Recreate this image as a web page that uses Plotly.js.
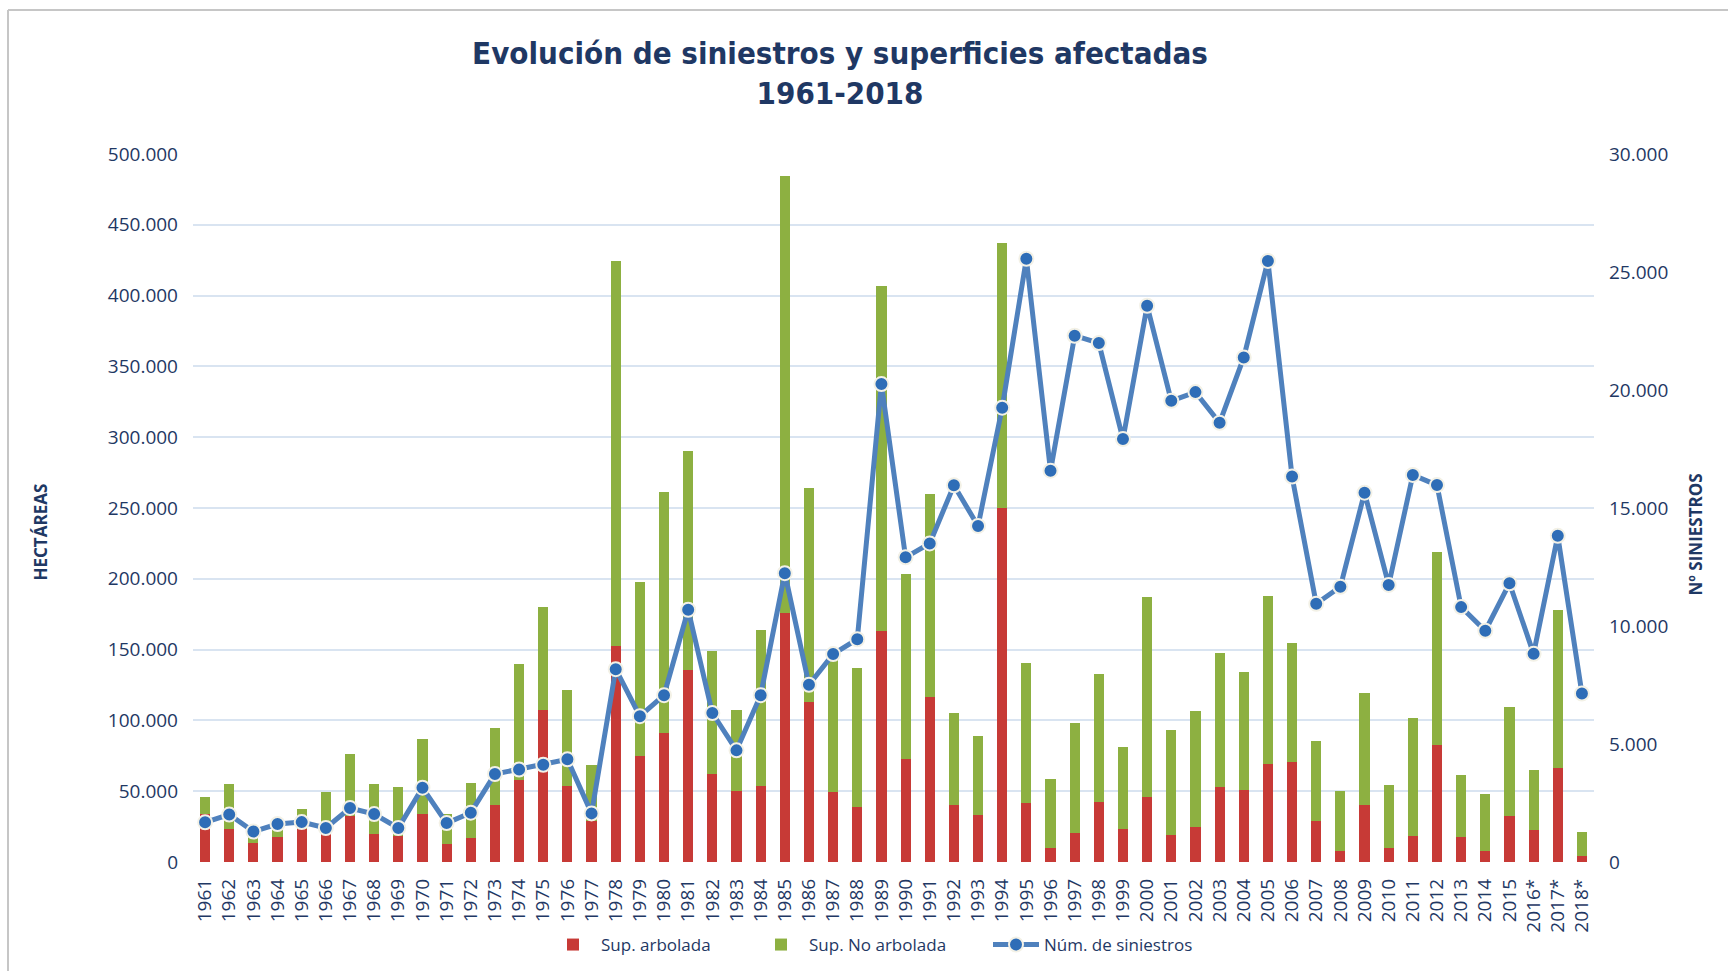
<!DOCTYPE html>
<html>
<head>
<meta charset="utf-8">
<script src="https://cdn.plot.ly/plotly-3.0.1.min.js"></script>
<style>
html,body{margin:0;padding:0;background:#fff;}
#chart{width:1728px;height:971px;}
</style>
</head>
<body>
<div id="chart"></div>
<script>
// ---- Data ----
const years = ['1961','1962','1963','1964','1965','1966','1967','1968','1969','1970',
  '1971','1972','1973','1974','1975','1976','1977','1978','1979','1980',
  '1981','1982','1983','1984','1985','1986','1987','1988','1989','1990',
  '1991','1992','1993','1994','1995','1996','1997','1998','1999','2000',
  '2001','2002','2003','2004','2005','2006','2007','2008','2009','2010',
  '2011','2012','2013','2014','2015','2016*','2017*','2018*'];

const supArbolada = [33600,23500,13200,17700,23000,19500,32400,19700,18600,33600,
  12500,17200,40200,57800,107600,54000,29000,152700,75200,91000,
  135400,61800,50300,53600,176000,113300,49100,39000,162800,72800,
  116500,40200,33100,250000,41600,9600,20700,42300,23500,45600,
  19000,24900,53300,51200,68900,70700,28900,7800,40000,9600,
  18600,82700,17400,7800,32400,22600,66500,4200];

const supNoArbolada = [12400,31700,7500,8500,14600,29800,44000,35500,34300,53400,
  21400,38500,54500,82000,72400,67200,39600,271700,122200,170000,
  155100,87200,57100,110400,308400,150700,95900,98000,244200,130500,
  143400,64800,55700,187500,99200,48900,77500,90200,57800,141400,
  74100,82000,94300,82800,119300,84200,56600,42200,79600,44700,
  83200,135900,43700,40400,77100,42700,111600,16700];

const numSiniestros = [1680,2010,1290,1610,1690,1440,2290,2030,1440,3150,
  1650,2090,3730,3920,4120,4350,2060,8170,6180,7070,
  10690,6310,4730,7070,12240,7510,8810,9440,20250,12910,
  13500,15960,14240,19250,25560,16580,22300,21990,17920,23570,
  19540,19910,18610,21380,25470,16330,10940,11660,15650,11740,
  16400,15970,10800,9800,11810,8820,13820,7140];

const seriesNames = ['Sup. arbolada','Sup. No arbolada','Núm. de siniestros'];
const chartTitle = 'Evolución de siniestros y superficies afectadas<br>1961-2018';
const leftTitle = 'HECTÁREAS';
const rightTitle = 'Nº SINIESTROS';

// ---- Layout constants ----
const W = 1728, H = 971;
const M = {l:193, r:134, t:154, b:109, autoexpand:false};
const PW = W - M.l - M.r, PH = H - M.t - M.b;
const px = v => (v - M.l) / PW;          // container px -> paper x
const py = v => (H - M.b - v) / PH;      // container px -> paper y

const navy = '#1F3864';
const baseFam = 'Open Sans, Noto Sans, sans-serif';
const tickFont = {family:baseFam, size:19, color:navy};
const titleFam = 'Liberation Sans Narrow, DejaVu Sans Condensed, Open Sans, sans-serif';

const traces = [
  {type:'bar', name:seriesNames[0], x:years, y:supArbolada, yaxis:'y',
   marker:{color:'#C73A36'}, legend:'legend'},
  {type:'bar', name:seriesNames[1], x:years, y:supNoArbolada, yaxis:'y',
   marker:{color:'#8DB041'}, legend:'legend2'},
  {type:'scatter', mode:'lines+markers', name:seriesNames[2], x:years, y:numSiniestros, yaxis:'y2',
   line:{color:'#4F81BD', width:5},
   marker:{color:'#2E6DB7', size:14, line:{color:'#F3F1E6', width:2}},
   legend:'legend3'}
];

const legFont = {family:baseFam, size:17, color:navy};
const legY = py(945);
const legBase = {orientation:'h', yanchor:'middle', y:legY, xanchor:'left',
  font:legFont, bgcolor:'rgba(0,0,0,0)', itemwidth:46};

const layout = {
  width:W, height:H,
  margin:M,
  paper_bgcolor:'#fff', plot_bgcolor:'#fff',
  separators:',.',
  barmode:'stack',
  bargap:0.58,
  title:{text:chartTitle, xref:'container', yref:'container', x:840/W, xanchor:'center',
         y:1-64/H, yanchor:'middle',
         font:{family:titleFam, size:31, color:navy, weight:'bold'}},
  xaxis:{type:'category', range:[-0.5, years.length-0.5], tickmode:'array', tickvals:years, ticktext:years,
         tickangle:-90, tickfont:{family:baseFam, size:19, color:navy},
         showgrid:false, zeroline:false, showline:false, ticks:'', ticklabelstandoff:12, automargin:false},
  yaxis:{range:[0,500000], dtick:50000, tickformat:',d', tickfont:tickFont,
         showgrid:true, gridcolor:'#D9E4F1', gridwidth:2, zeroline:false, showline:false,
         ticks:'', ticklabelstandoff:14, automargin:false},
  yaxis2:{range:[0,30000], dtick:5000, tickformat:',d', tickfont:tickFont, overlaying:'y', side:'right',
          showgrid:false, zeroline:false, showline:false, ticks:'', ticklabelstandoff:14, automargin:false},
  legend: Object.assign({}, legBase, {x:px(545)}),
  legend2: Object.assign({}, legBase, {x:px(753)}),
  legend3: Object.assign({}, legBase, {x:px(988)}),
  annotations:[
    {text:'<b>'+leftTitle+'</b>', xref:'paper', yref:'paper', x:px(26), y:py(532), textangle:-90,
     showarrow:false, font:{family:baseFam, size:17, color:navy}},
    {text:'<b>'+rightTitle+'</b>', xref:'paper', yref:'paper', x:px(1708), y:py(535), textangle:-90,
     showarrow:false, font:{family:baseFam, size:17, color:navy}}
  ],
  shapes:[
    {type:'line', xref:'paper', yref:'paper', x0:px(8), x1:px(W+10), y0:py(10), y1:py(10),
     line:{color:'#C6C6C6', width:2}},
    {type:'line', xref:'paper', yref:'paper', x0:px(8), x1:px(8), y0:py(10), y1:py(H+10),
     line:{color:'#C6C6C6', width:2}}
  ],
  showlegend:true
};

Plotly.newPlot('chart', traces, layout, {staticPlot:true, displayModeBar:false});
</script>
</body>
</html>
